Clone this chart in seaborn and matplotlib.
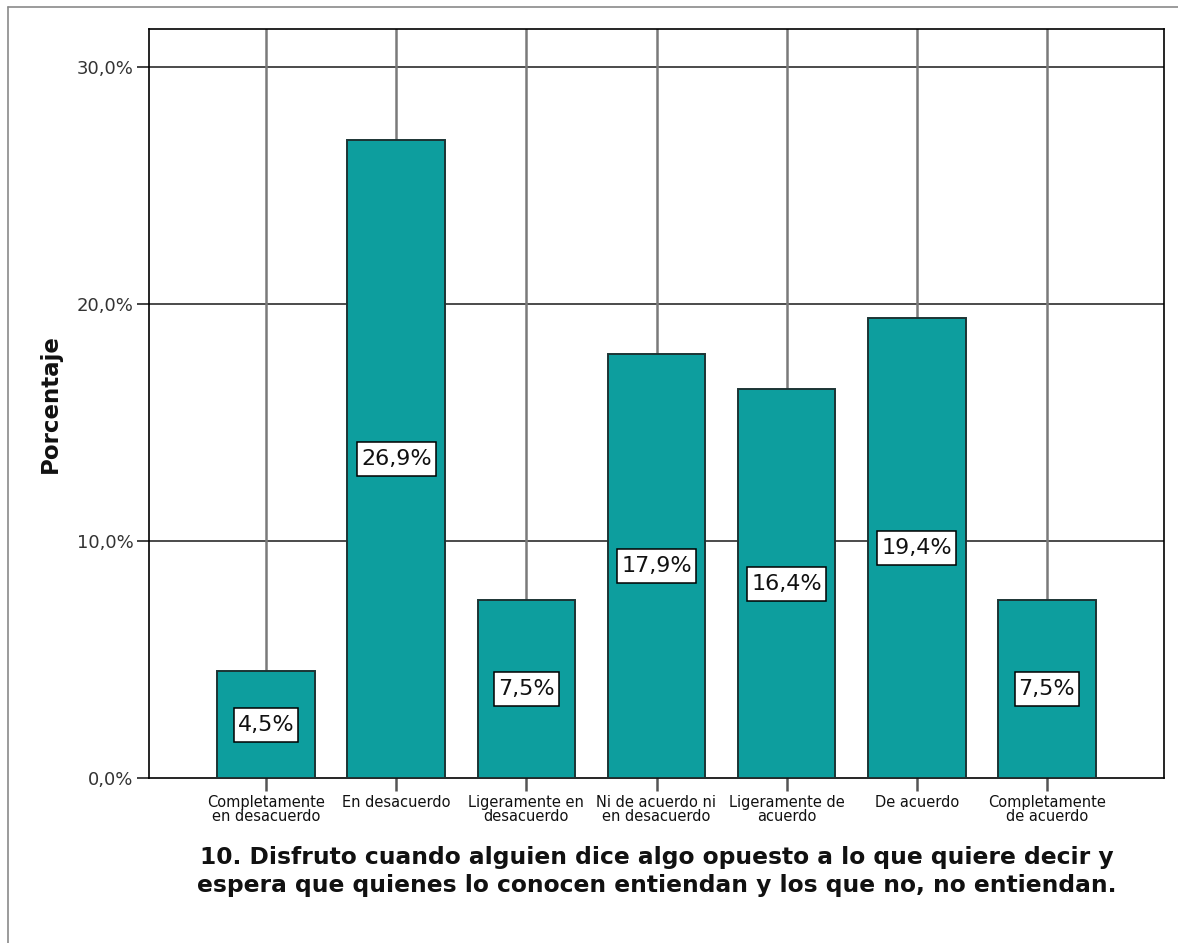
import pandas as pd
import numpy as np
import seaborn as sns
import matplotlib.pyplot as plt
from matplotlib.lines import Line2D
from matplotlib.path import Path
from matplotlib.ticker import FuncFormatter

# Datos
categorias = ['Completamente\nen desacuerdo', 'En desacuerdo', 'Ligeramente en\ndesacuerdo',
              'Ni de acuerdo ni\nen desacuerdo', 'Ligeramente de\nacuerdo', 'De acuerdo',
              'Completamente\nde acuerdo']
porcentajes = [4.5, 26.9, 7.5, 17.9, 16.4, 19.4, 7.5]
titulo = ('10. Disfruto cuando alguien dice algo opuesto a lo que quiere decir y\n'
          'espera que quienes lo conocen entiendan y los que no, no entiendan.')

df = pd.DataFrame({'categoria': categorias, 'porcentaje': porcentajes})

sns.set_style('white')
plt.rcParams['font.family'] = ['DejaVu Sans']


# caja de etiqueta con margen distinto en horizontal y vertical (como SPSS)
def caja(x0, y0, width, height, mutation_size):
    px, py = 4, 7
    return Path([(x0 - px, y0 - py), (x0 + width + px, y0 - py),
                 (x0 + width + px, y0 + height + py), (x0 - px, y0 + height + py),
                 (x0 - px, y0 - py)], closed=True)


fig = plt.figure(figsize=(11.78, 9.43), dpi=100)
ax = fig.add_axes([149 / 1178, 1 - 778 / 943, 1015 / 1178, 749 / 943])

sns.barplot(data=df, x='categoria', y='porcentaje', color='#0d9e9e', saturation=1,
            width=0.75, edgecolor='#1c3434', linewidth=1.4, ax=ax, zorder=3)

ax.set_xlim(-0.9, 6.9)
ax.set_ylim(0, 31.6)
ax.set_yticks([0, 10, 20, 30])
ax.yaxis.set_major_formatter(FuncFormatter(lambda v, p: f'{v:.1f}%'.replace('.', ',')))

# rejilla
ax.set_axisbelow(True)
for y in [10, 20, 30]:
    ax.axhline(y, color='#1a1a1a', lw=1.1, zorder=1)
for i in range(len(categorias)):
    ax.axvline(i, color='#7a7a7a', lw=1.8, zorder=1)

# etiquetas de barras
for i, v in enumerate(porcentajes):
    ax.text(i, v / 2, f'{v:.1f}%'.replace('.', ','), ha='center', va='center',
            fontsize=16, color='#111111', zorder=5,
            bbox=dict(boxstyle=caja, fc='white', ec='black', lw=1.1))

for s in ax.spines.values():
    s.set_color('black')
    s.set_linewidth(1.2)
    s.set_visible(True)

ax.tick_params(axis='y', direction='out', length=9, width=1.2, color='#222222',
               labelsize=13, labelcolor='#333333', pad=2, left=True)
ax.tick_params(axis='x', direction='out', length=9, width=1.8, color='#555555',
               labelsize=10.5, labelcolor='#111111', pad=3, bottom=True)
for lab in ax.get_xticklabels():
    lab.set_linespacing(0.95)

ax.set_ylabel('Porcentaje', fontsize=16.5, fontweight='bold', color='#111111')
ax.yaxis.label.set_va('center')
ax.yaxis.set_label_coords(-0.0975, 0.5)
ax.set_xlabel(titulo, fontsize=16.8, fontweight='bold', color='#111111', linespacing=1.28)
ax.xaxis.set_label_coords(0.5, -0.091)

# marco exterior
fig.add_artist(Line2D([8 / 1178, 1], [1 - 7 / 943, 1 - 7 / 943], color='#8a8a8a', lw=1.2))
fig.add_artist(Line2D([8 / 1178, 8 / 1178], [0, 1 - 7 / 943], color='#8a8a8a', lw=1.2))

fig.savefig('out.png', dpi=100)
